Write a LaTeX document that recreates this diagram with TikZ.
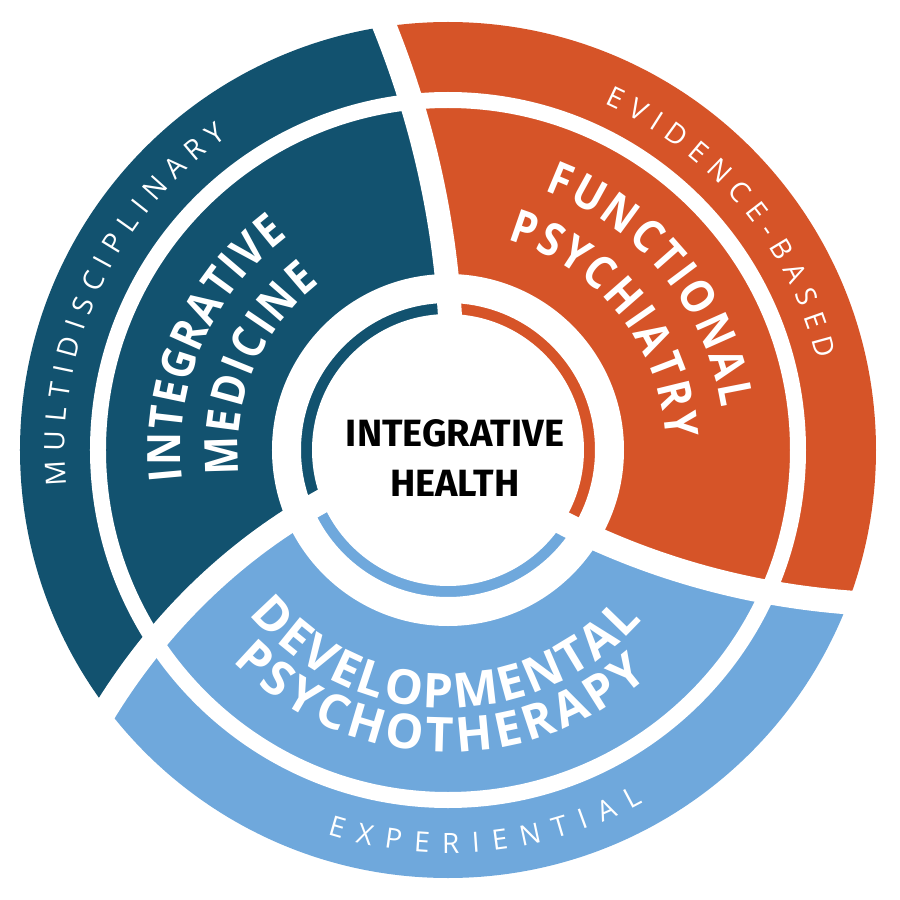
\documentclass[tikz,border=0pt]{standalone}
\usepackage{fontspec}
\setmainfont{Open Sans}
\newfontfamily\hubfont{Fira Sans}
\newfontfamily\sectfam{Open Sans}[FakeStretch=0.88]
\usetikzlibrary{decorations.text}

\definecolor{medblue}{HTML}{12526F}
\definecolor{psyorange}{HTML}{D65428}
\definecolor{devblue}{HTML}{6FA8DC}

\newcommand{\bandfont}{\fontsize{28}{28}\selectfont}
\newcommand{\sectfont}{\sectfam\bfseries\fontsize{46}{46}\selectfont}
\newcommand{\devfont}{\bfseries\fontsize{48}{48}\selectfont}

\begin{document}
\begin{tikzpicture}[x=1pt,y=1pt,
	declare function={
		sepA(\r) = 89.5+9*(\r-145)/283;
		sepB(\r) = -32.2+11.3*(\r-141)/286;
		sepC(\r) = 202.4+14.6*(\r-142)/284;
	},
	whitegap/.style={white,line width=#1},
	ringtext/.style={decorate,decoration={text along path,text color=white,
		text align={fit to path},text={#1}}}]
	
	\useasboundingbox (-448,-450) rectangle (452,450);
	
	% Sectors
	\begin{scope}
		\clip (0,0) circle[radius=428];
		\fill[medblue] (0,0) -- plot[domain=100:445,samples=40] ({sepA(\x)}:\x)
			arc[start angle={sepA(445)},end angle={sepC(445)},radius=445]
			-- plot[domain=445:100,samples=40] ({sepC(\x)}:\x) -- cycle;
		\fill[psyorange] (0,0) -- plot[domain=100:445,samples=40] ({sepB(\x)}:\x)
			arc[start angle={sepB(445)},end angle={sepA(445)},radius=445]
			-- plot[domain=445:100,samples=40] ({sepA(\x)}:\x) -- cycle;
		\fill[devblue] (0,0) -- plot[domain=100:445,samples=40] ({sepC(\x)}:\x)
			arc[start angle={sepC(445)},end angle={sepB(445)+360},radius=445]
			-- plot[domain=445:100,samples=40] ({sepB(\x)}:\x) -- cycle;
	\end{scope}
	
	% Gaps
	\fill[white] (0,0) circle[radius=136];
	\draw[whitegap=29] (0,0) circle[radius=161.5];
	\draw[whitegap=16] (0,0) circle[radius=350];
	\draw[whitegap=24] plot[domain=100:445,samples=40] ({sepA(\x)}:\x);
	\draw[whitegap=24] plot[domain=100:445,samples=40] ({sepB(\x)}:\x);
	\draw[whitegap=24] plot[domain=100:445,samples=40] ({sepC(\x)}:\x);
	
	% Outer band
	\path[ringtext={|\bandfont|MULTIDISCIPLINARY}]
		(185.3:383) arc[start angle=185.3,end angle=125.2,radius=383];
	\path[ringtext={|\bandfont|EVIDENCE-BASED}]
		(65.7:380) arc[start angle=65.7,end angle=13.8,radius=380];
	\path[ringtext={|\bandfont|EXPERIENTIAL}]
		(252.6:403) arc[start angle=252.6,end angle=298.9,radius=403];
	
	% Middle band
	\path[ringtext={|\sectfont|INTEGRATIVE}]
		(186.6:267) arc[start angle=186.6,end angle=126.9,radius=267];
	\path[ringtext={|\sectfont|MEDICINE}]
		(186.8:210) arc[start angle=186.8,end angle=127.5,radius=210];
	\path[ringtext={|\sectfont|FUNCTIONAL}]
		(69.6:277) arc[start angle=69.6,end angle=8.7,radius=277];
	\path[ringtext={|\sectfont|PSYCHIATRY}]
		(74.2:218) arc[start angle=74.2,end angle=2.9,radius=218];
	\path[ringtext={|\devfont|DEVELOPMENTAL}]
		(219.5:258) arc[start angle=219.5,end angle=318.8,radius=258];
	\path[ringtext={|\devfont|PSYCHOTHERAPY}]
		(224.5:302) arc[start angle=224.5,end angle=311.5,radius=302];
	
	% Centre
	\node[font=\hubfont\bfseries\fontsize{38}{50}\selectfont,align=center]
		(hub) at (7,-8) {INTEGRATIVE\\HEALTH};
	
\end{tikzpicture}
\end{document}
